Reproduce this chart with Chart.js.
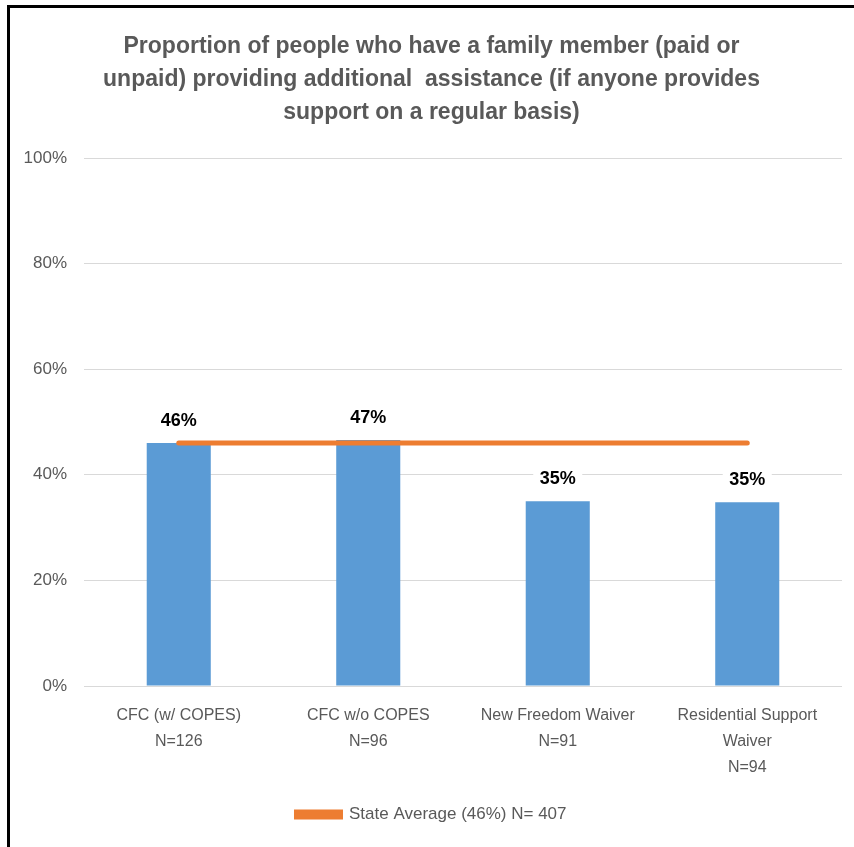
<!DOCTYPE html>
<html>
<head>
<meta charset="utf-8">
<script src="https://cdn.jsdelivr.net/npm/chart.js@4"></script>
<style>
  html, body { margin: 0; padding: 0; background: #ffffff; }
  #wrap { position: relative; width: 854px; height: 847px; overflow: hidden; }
  #frame { position: absolute; left: 7px; top: 5px; width: 900px; height: 900px;
           border-top: 3px solid #000; border-left: 3px solid #000; pointer-events: none; }
  canvas { position: absolute; left: 0; top: 0; }
</style>
</head>
<body>
<div id="wrap">
  <canvas id="c" width="854" height="847"></canvas>
  <div id="frame"></div>
</div>
<script>
const titleLines = [
  "Proportion of people who have a family member (paid or",
  "unpaid) providing additional  assistance (if anyone provides",
  "support on a regular basis)"
];
const categories = [
  ["CFC (w/ COPES)", "N=126"],
  ["CFC w/o COPES", "N=96"],
  ["New Freedom Waiver", "N=91"],
  ["Residential Support", "Waiver", "N=94"]
];
const programValues = [46.0, 46.6, 35.0, 34.8];
const stateAverage = [46, 46, 46, 46];
const stateAverageLabel = "State Average (46%) N= 407";
const yTicks = [0, 20, 40, 60, 80, 100];

const FONT = "'Liberation Sans', Arial, sans-serif";
const GREY = "#595959";

const barLabels = {
  id: 'barLabels',
  afterDatasetsDraw(chart) {
    const meta = chart.getDatasetMeta(0);
    const ctx = chart.ctx;
    ctx.save();
    ctx.font = "bold 18px " + FONT;
    ctx.textAlign = 'center';
    ctx.textBaseline = 'middle';
    meta.data.forEach((bar, i) => {
      const txt = Math.round(programValues[i]) + '%';
      const w = ctx.measureText(txt).width + 13;
      const cy = bar.y - 22;
      ctx.fillStyle = '#ffffff';
      ctx.fillRect(bar.x - w / 2, cy - 11, w, 22);
      ctx.fillStyle = '#000000';
      ctx.fillText(txt, bar.x, cy);
    });
    ctx.restore();
  }
};

new Chart(document.getElementById('c'), {
  data: {
    labels: categories,
    datasets: [
      {
        type: 'bar',
        label: 'Programs',
        data: programValues,
        backgroundColor: '#5B9BD5',
        borderWidth: 0,
        categoryPercentage: 1,
        barPercentage: 0.338,
        order: 1
      },
      {
        type: 'line',
        label: stateAverageLabel,
        data: stateAverage,
        borderColor: '#ED7D31',
        backgroundColor: '#ED7D31',
        borderWidth: 5,
        borderCapStyle: 'round',
        pointRadius: 0,
        pointHoverRadius: 0,
        fill: false,
        order: 0
      }
    ]
  },
  options: {
    responsive: false,
    animation: false,
    layout: { padding: { left: 21, right: 12, top: 0, bottom: 14 } },
    plugins: {
      title: {
        display: true,
        text: titleLines,
        color: GREY,
        font: { family: FONT, size: 23, weight: 'bold', lineHeight: 33 / 23 },
        padding: { top: 30, bottom: 29 }
      },
      legend: {
        position: 'bottom',
        labels: {
          color: GREY,
          font: { family: FONT, size: 17 },
          boxWidth: 44,
          boxHeight: 5,
          padding: 10,
          filter: (item) => item.datasetIndex === 1
        }
      },
      tooltip: { enabled: false }
    },
    scales: {
      x: {
        grid: { display: false, drawTicks: false },
        border: { display: false },
        ticks: {
          color: GREY,
          font: { family: FONT, size: 16, lineHeight: 26 / 16 },
          padding: 17,
          maxRotation: 0,
          autoSkip: false
        },
        afterFit(scale) { scale.height = 110; }
      },
      y: {
        min: 0,
        max: 100,
        afterBuildTicks(scale) { scale.ticks = yTicks.map(v => ({ value: v })); },
        grid: { color: '#d9d9d9', lineWidth: 1, drawTicks: false },
        border: { display: false },
        ticks: {
          color: GREY,
          font: { family: FONT, size: 17 },
          padding: 17,
          callback: (v) => v + '%'
        },
        afterFit(scale) { scale.width = 63; }
      }
    }
  },
  plugins: [barLabels]
});
</script>
</body>
</html>
